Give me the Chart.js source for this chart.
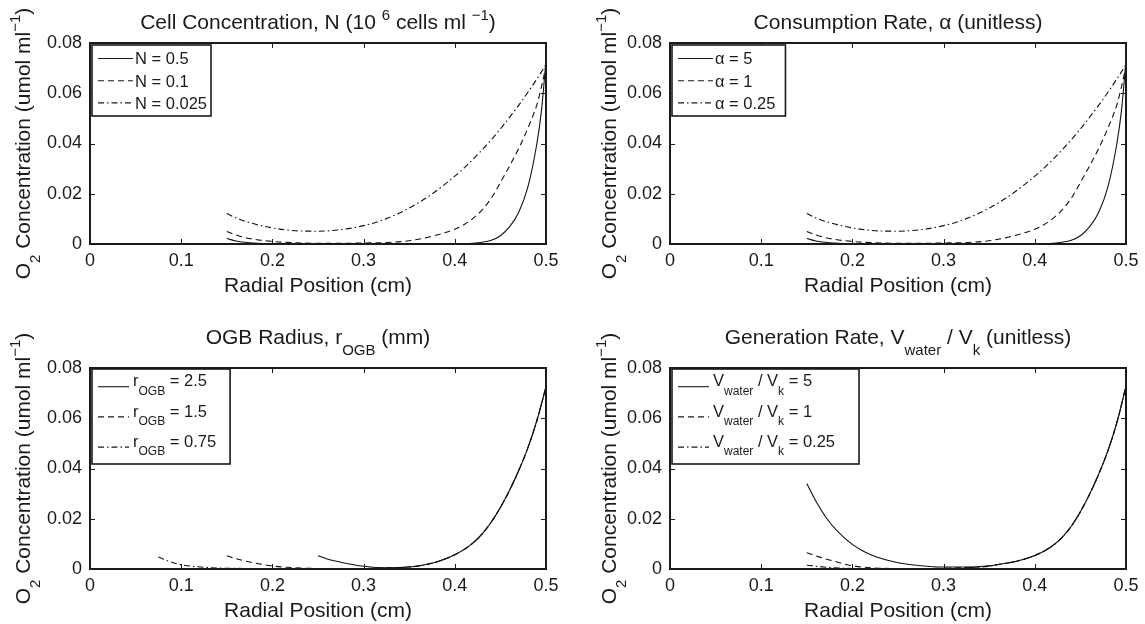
<!DOCTYPE html>
<html>
<head>
<meta charset="utf-8">
<title>O2 concentration profiles</title>
<script src="https://cdn.jsdelivr.net/npm/chart.js@4.4.0/dist/chart.umd.min.js"></script>
<style>
  body { margin: 0; background: #fff; }
  #fig { position: relative; width: 1145px; height: 624px; overflow: hidden; }
  #fig canvas { position: absolute; }
</style>
</head>
<body>
<div id="fig">
  <canvas id="chart-n" width="572" height="312" style="left:0;top:0;width:572px;height:312px"></canvas>
  <canvas id="chart-alpha" width="573" height="312" style="left:572px;top:0;width:573px;height:312px"></canvas>
  <canvas id="chart-ogb" width="572" height="312" style="left:0;top:312px;width:572px;height:312px"></canvas>
  <canvas id="chart-gen" width="573" height="312" style="left:572px;top:312px;width:573px;height:312px"></canvas>
</div>
<script>
// axis ticks (same on all four panels)
var xTicks = [0, 0.1, 0.2, 0.3, 0.4, 0.5];
var xTickLabels = ['0', '0.1', '0.2', '0.3', '0.4', '0.5'];
var yTicks = [0, 0.02, 0.04, 0.06, 0.08];
var yTickLabels = ['0', '0.02', '0.04', '0.06', '0.08'];

// top row: radial positions (cm)
var radiusTop = [0.15, 0.16, 0.175, 0.2, 0.225, 0.25, 0.275, 0.3, 0.325, 0.35, 0.375, 0.4,
                 0.41, 0.42, 0.43, 0.44, 0.45, 0.46, 0.47, 0.48, 0.49, 0.495, 0.5];

// cell concentration N
var cellN05   = [0.0022, 0.0012, 0.0005, 0.0001, 0, 0, 0, 0, 0, 0, 0, 0,
                 0.0001, 0.0003, 0.0007, 0.0015, 0.0033, 0.0068, 0.0125, 0.0225, 0.0400, 0.0530, 0.0730];
var cellN01   = [0.0050, 0.0036, 0.0022, 0.0010, 0.0005, 0.0003, 0.0003, 0.0004, 0.0006, 0.0013, 0.0031, 0.0059,
                 0.0077, 0.0102, 0.0136, 0.0182, 0.0245, 0.0310, 0.0380, 0.0460, 0.0555, 0.0625, 0.0710];
var cellN0025 = [0.0121, 0.0104, 0.0085, 0.0064, 0.0053, 0.0051, 0.0057, 0.0073, 0.0101, 0.0143, 0.0199, 0.0270,
                 0.0302, 0.0337, 0.0375, 0.0415, 0.0458, 0.0504, 0.0552, 0.0603, 0.0657, 0.0685, 0.0715];

// consumption rate alpha (curves look the same as the N panel)
var alpha5    = [0.0022, 0.0012, 0.0005, 0.0001, 0, 0, 0, 0, 0, 0, 0, 0,
                 0.0001, 0.0003, 0.0007, 0.0015, 0.0033, 0.0068, 0.0125, 0.0225, 0.0400, 0.0530, 0.0730];
var alpha1    = [0.0050, 0.0036, 0.0022, 0.0010, 0.0005, 0.0003, 0.0003, 0.0004, 0.0006, 0.0013, 0.0031, 0.0059,
                 0.0077, 0.0102, 0.0136, 0.0182, 0.0245, 0.0310, 0.0380, 0.0460, 0.0555, 0.0625, 0.0710];
var alpha025  = [0.0121, 0.0104, 0.0085, 0.0064, 0.0053, 0.0051, 0.0057, 0.0073, 0.0101, 0.0143, 0.0199, 0.0270,
                 0.0302, 0.0337, 0.0375, 0.0415, 0.0458, 0.0504, 0.0552, 0.0603, 0.0657, 0.0685, 0.0715];

// OGB radius
var ogb25X = [0.25, 0.26, 0.275, 0.3, 0.325, 0.35, 0.36, 0.37, 0.38, 0.39, 0.4, 0.41, 0.42, 0.43, 0.44,
              0.45, 0.46, 0.47, 0.48, 0.49, 0.5];
var ogb25Y = [0.0053, 0.0040, 0.0027, 0.0011, 0.0005, 0.0008, 0.0012, 0.0019, 0.0028, 0.0041, 0.0057, 0.0077,
              0.0104, 0.0140, 0.0187, 0.0245, 0.0313, 0.0391, 0.0481, 0.0591, 0.0725];
var ogb15X = [0.15, 0.16, 0.175, 0.2, 0.225, 0.25, 0.275, 0.3, 0.325, 0.35, 0.36, 0.37, 0.38, 0.39, 0.4, 0.41,
              0.42, 0.43, 0.44, 0.45, 0.46, 0.47, 0.48, 0.49, 0.5];
var ogb15Y = [0.0053, 0.0041, 0.0028, 0.0012, 0.0005, 0.0002, 0.0001, 0.0002, 0.0004, 0.0008, 0.0012, 0.0019,
              0.0028, 0.0041, 0.0057, 0.0077, 0.0104, 0.0140, 0.0187, 0.0245, 0.0313, 0.0391, 0.0481, 0.0591, 0.0725];
var ogb075X = [0.075, 0.085, 0.1, 0.125, 0.15, 0.175, 0.2, 0.25, 0.3, 0.325, 0.35, 0.36, 0.37, 0.38, 0.39, 0.4,
               0.41, 0.42, 0.43, 0.44, 0.45, 0.46, 0.47, 0.48, 0.49, 0.5];
var ogb075Y = [0.0048, 0.0033, 0.0017, 0.0007, 0.0003, 0.0002, 0.0001, 0.0001, 0.0002, 0.0004, 0.0008, 0.0012,
               0.0019, 0.0028, 0.0041, 0.0057, 0.0077, 0.0104, 0.0140, 0.0187, 0.0245, 0.0313, 0.0391, 0.0481,
               0.0591, 0.0725];

// generation rate Vwater / Vk
var gen5X = [0.15, 0.16, 0.175, 0.19, 0.2, 0.21, 0.225, 0.25, 0.275, 0.3, 0.325, 0.35, 0.36, 0.37, 0.38, 0.39,
             0.4, 0.41, 0.42, 0.43, 0.44, 0.45, 0.46, 0.47, 0.48, 0.49, 0.5];
var gen5Y = [0.0340, 0.0270, 0.0186, 0.0128, 0.0098, 0.0075, 0.0050, 0.0025, 0.0013, 0.0008, 0.0008, 0.0013,
             0.0018, 0.0024, 0.0031, 0.0041, 0.0054, 0.0071, 0.0094, 0.0126, 0.0170, 0.0228, 0.0297, 0.0377,
             0.0469, 0.0583, 0.0728];
var genLowX = [0.15, 0.16, 0.175, 0.2, 0.225, 0.25, 0.275, 0.3, 0.325, 0.35, 0.36, 0.37, 0.38, 0.39, 0.4, 0.41,
               0.42, 0.43, 0.44, 0.45, 0.46, 0.47, 0.48, 0.49, 0.5];
var gen1Y = [0.0065, 0.0052, 0.0036, 0.0013, 0.0004, 0.0002, 0.0002, 0.0003, 0.0006, 0.0012, 0.0018, 0.0024,
             0.0031, 0.0041, 0.0054, 0.0071, 0.0094, 0.0126, 0.0170, 0.0228, 0.0297, 0.0377, 0.0469, 0.0583, 0.0728];
var gen025Y = [0.0015, 0.0011, 0.0006, 0.0002, 0.0001, 0.0001, 0.0001, 0.0002, 0.0005, 0.0011, 0.0018, 0.0024,
               0.0031, 0.0041, 0.0054, 0.0071, 0.0094, 0.0126, 0.0170, 0.0228, 0.0297, 0.0377, 0.0469, 0.0583, 0.0728];

var FONT = 'Liberation Sans, Arial, Helvetica, sans-serif';
var INK = '#1a1a1a';
var SOLID = [], DASHED = [6, 4], DASHDOT = [6, 3, 1.5, 3];
var LABEL_SIZE = 21, LEGEND_SIZE = 16.5;

Chart.defaults.font.family = FONT;
Chart.defaults.color = INK;

function pts(xs, ys) {
    return xs.map(function (x, i) { return { x: x, y: ys[i] }; });
}

function line(ctx, x1, y1, x2, y2) {
    ctx.beginPath();
    ctx.moveTo(x1, y1);
    ctx.lineTo(x2, y2);
    ctx.stroke();
}

// text with sub / superscripts: segs = [[text], [text, 'sub'], [text, 'sup']]
function segFont(seg, size) {
    return (seg[1] ? Math.round(size * 0.72) : size) + 'px ' + FONT;
}
function richWidth(ctx, segs, size) {
    var w = 0;
    segs.forEach(function (s) {
        ctx.font = segFont(s, size);
        w += ctx.measureText(s[0]).width;
    });
    return w;
}
function drawRich(ctx, segs, x, baseline, size, align) {
    var cx = align === 'center' ? x - richWidth(ctx, segs, size) / 2 : x;
    ctx.textAlign = 'left';
    ctx.textBaseline = 'alphabetic';
    ctx.fillStyle = INK;
    segs.forEach(function (s) {
        ctx.font = segFont(s, size);
        var dy = s[1] === 'sub' ? size * 0.5 : (s[1] === 'sup' ? -size * 0.45 : 0);
        ctx.fillText(s[0], cx, baseline + dy);
        cx += ctx.measureText(s[0]).width;
    });
}

var yLabel = [['O'], ['2', 'sub'], [' Concentration (umol ml'], ['\u22121', 'sup'], [')']];

// frame with inward ticks, title, y label and legend box (matlab look)
var figurePlugin = {
    id: 'figure',
    afterDraw: function (chart) {
        var o = chart.options.plugins.figure;
        var ctx = chart.ctx;
        var a = chart.chartArea;
        var xs = chart.scales.x, ys = chart.scales.y;
        ctx.save();

        ctx.strokeStyle = INK;
        ctx.lineWidth = 1;
        xTicks.forEach(function (v) {
            var px = Math.round(xs.getPixelForValue(v)) + 0.5;
            line(ctx, px, a.bottom, px, a.bottom - 5);
            line(ctx, px, a.top, px, a.top + 5);
        });
        yTicks.forEach(function (v) {
            var py = Math.round(ys.getPixelForValue(v)) + 0.5;
            line(ctx, a.left, py, a.left + 5, py);
            line(ctx, a.right, py, a.right - 5, py);
        });

        // legend
        var lg = o.legend;
        var bx = a.left + lg.x, by = a.top + lg.y;
        var maxW = 0;
        chart.data.datasets.forEach(function (ds) {
            maxW = Math.max(maxW, richWidth(ctx, ds.richLabel, LEGEND_SIZE));
        });
        var bw = lg.textX + maxW + lg.padR;
        ctx.fillStyle = '#fff';
        ctx.fillRect(bx, by, bw, lg.h);
        ctx.lineWidth = 1.6;
        ctx.strokeRect(bx, by, bw, lg.h);
        chart.data.datasets.forEach(function (ds, i) {
            var cy = by + lg.firstY + i * lg.rowH;
            ctx.lineWidth = 1.1;
            ctx.setLineDash(ds.borderDash);
            line(ctx, bx + lg.lineX0, cy + lg.lineDy, bx + lg.lineX1, cy + lg.lineDy);
            ctx.setLineDash([]);
            drawRich(ctx, ds.richLabel, bx + lg.textX, cy + 0.36 * LEGEND_SIZE, LEGEND_SIZE, 'left');
        });

        ctx.lineWidth = 2;
        ctx.strokeRect(a.left, a.top, a.right - a.left, a.bottom - a.top);

        drawRich(ctx, o.title, (a.left + a.right) / 2, a.top - o.titleGap, LABEL_SIZE, 'center');

        ctx.translate(a.left - o.yLabelGap, (a.top + a.bottom) / 2);
        ctx.rotate(-Math.PI / 2);
        drawRich(ctx, yLabel, 0, 0.36 * LABEL_SIZE, LABEL_SIZE, 'center');
        ctx.restore();
    }
};

function makePanel(id, box, title, titleGap, yLabelGap, datasets, legend) {
    var canvas = document.getElementById(id);
    var W = canvas.width, H = canvas.height;
    return new Chart(canvas, {
        type: 'line',
        data: { datasets: datasets.map(function (d) {
            return {
                label: d.label,
                richLabel: d.rich,
                data: d.data,
                borderColor: '#111',
                borderWidth: 1.1,
                borderDash: d.dash,
                pointRadius: 0,
                fill: false,
                cubicInterpolationMode: 'monotone'
            };
        }) },
        options: {
            responsive: false,
            animation: false,
            layout: { padding: { left: 0, top: box.top, right: W - box.right, bottom: 0 } },
            plugins: {
                legend: { display: false },
                tooltip: { enabled: false },
                figure: { title: title, titleGap: titleGap, yLabelGap: yLabelGap, legend: legend }
            },
            scales: {
                x: {
                    type: 'linear',
                    min: 0,
                    max: 0.5,
                    grid: { display: false, drawTicks: false },
                    border: { display: false },
                    afterBuildTicks: function (s) {
                        s.ticks = xTicks.map(function (v) { return { value: v }; });
                    },
                    afterFit: function (s) { s.height = H - box.bottom; },
                    ticks: {
                        padding: 6,
                        maxRotation: 0,
                        font: { size: 18 },
                        callback: function (v, i) { return xTickLabels[i]; }
                    },
                    title: {
                        display: true,
                        text: 'Radial Position (cm)',
                        font: { size: LABEL_SIZE },
                        padding: { top: 0, bottom: H - box.bottom - 42.7 - LABEL_SIZE * 0.6 }
                    }
                },
                y: {
                    min: 0,
                    max: 0.08,
                    grid: { display: false, drawTicks: false },
                    border: { display: false },
                    afterBuildTicks: function (s) {
                        s.ticks = yTicks.map(function (v) { return { value: v }; });
                    },
                    afterFit: function (s) { s.width = box.left; },
                    ticks: {
                        padding: 8,
                        font: { size: 18 },
                        callback: function (v, i) { return yTickLabels[i]; }
                    }
                }
            }
        },
        plugins: [figurePlugin]
    });
}

function legendBox(padR, withSub) {
    if (withSub) {
        return { x: 2, y: 1, h: 95, firstY: 11.5, rowH: 30.2, lineX0: 6, lineX1: 37, lineDy: 6.2, textX: 41, padR: padR };
    }
    return { x: 2, y: 2, h: 71, firstY: 13.5, rowH: 22.2, lineX0: 6, lineX1: 41, lineDy: 0, textX: 43, padR: padR };
}

makePanel('chart-n', { left: 90, top: 43, right: 546, bottom: 244 },
    [['Cell Concentration, N (10 '], ['6', 'sup'], [' cells ml '], ['\u22121', 'sup'], [')']], 13.7, 68,
    [
        { label: 'N = 0.5', rich: [['N = 0.5']], data: pts(radiusTop, cellN05), dash: SOLID },
        { label: 'N = 0.1', rich: [['N = 0.1']], data: pts(radiusTop, cellN01), dash: DASHED },
        { label: 'N = 0.025', rich: [['N = 0.025']], data: pts(radiusTop, cellN0025), dash: DASHDOT }
    ], legendBox(4, false));

makePanel('chart-alpha', { left: 98, top: 43, right: 554, bottom: 244 },
    [['Consumption Rate, \u03b1 (unitless)']], 13.7, 62,
    [
        { label: '\u03b1 = 5', rich: [['\u03b1 = 5']], data: pts(radiusTop, alpha5), dash: SOLID },
        { label: '\u03b1 = 1', rich: [['\u03b1 = 1']], data: pts(radiusTop, alpha1), dash: DASHED },
        { label: '\u03b1 = 0.25', rich: [['\u03b1 = 0.25']], data: pts(radiusTop, alpha025), dash: DASHDOT }
    ], legendBox(10, false));

makePanel('chart-ogb', { left: 90, top: 56, right: 546, bottom: 257 },
    [['OGB Radius, r'], ['OGB', 'sub'], [' (mm)']], 23.7, 68,
    [
        { label: 'rOGB = 2.5', rich: [['r'], ['OGB', 'sub'], [' = 2.5']], data: pts(ogb25X, ogb25Y), dash: SOLID },
        { label: 'rOGB = 1.5', rich: [['r'], ['OGB', 'sub'], [' = 1.5']], data: pts(ogb15X, ogb15Y), dash: DASHED },
        { label: 'rOGB = 0.75', rich: [['r'], ['OGB', 'sub'], [' = 0.75']], data: pts(ogb075X, ogb075Y), dash: DASHDOT }
    ], legendBox(14, true));

makePanel('chart-gen', { left: 98, top: 56, right: 554, bottom: 257 },
    [['Generation Rate, V'], ['water', 'sub'], [' / V'], ['k', 'sub'], [' (unitless)']], 23.7, 62,
    [
        { label: 'Vwater / Vk = 5', rich: [['V'], ['water', 'sub'], [' / V'], ['k', 'sub'], [' = 5']], data: pts(gen5X, gen5Y), dash: SOLID },
        { label: 'Vwater / Vk = 1', rich: [['V'], ['water', 'sub'], [' / V'], ['k', 'sub'], [' = 1']], data: pts(genLowX, gen1Y), dash: DASHED },
        { label: 'Vwater / Vk = 0.25', rich: [['V'], ['water', 'sub'], [' / V'], ['k', 'sub'], [' = 0.25']], data: pts(genLowX, gen025Y), dash: DASHDOT }
    ], legendBox(24, true));
</script>
</body>
</html>
